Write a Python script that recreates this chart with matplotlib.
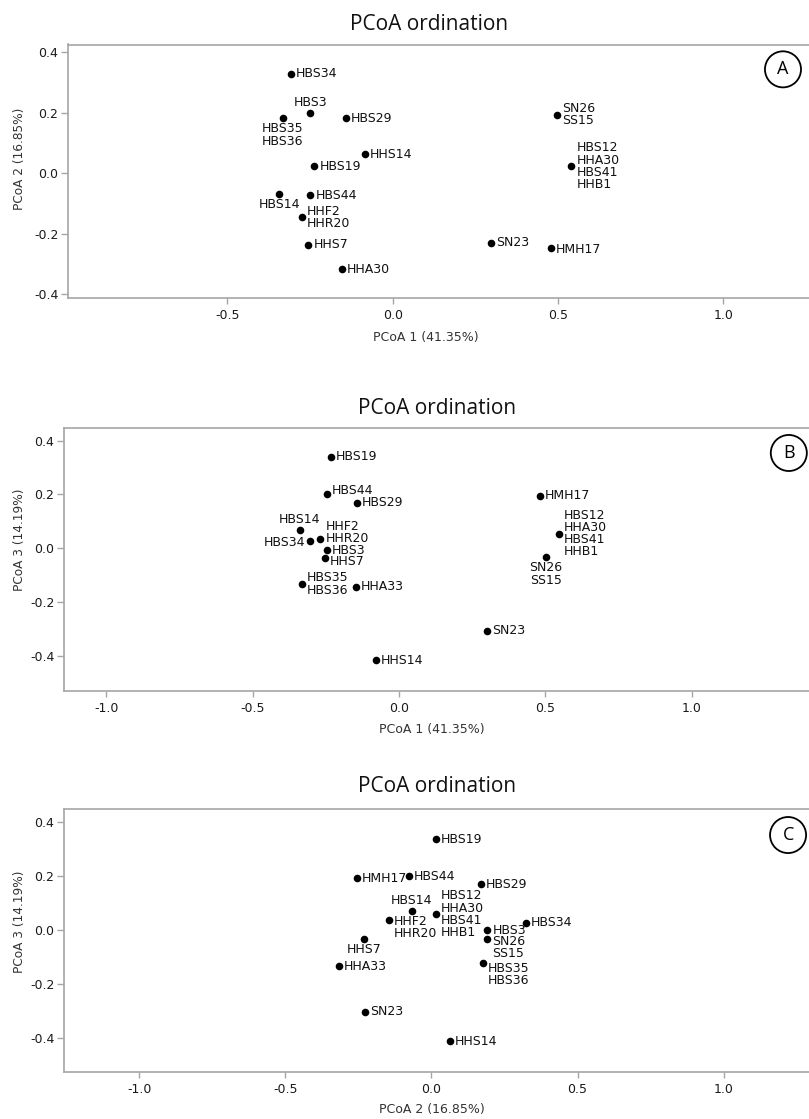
import matplotlib
matplotlib.use("Agg")
import matplotlib.pyplot as plt

# ---------------- data ----------------
# Panel A: PCoA 1 vs PCoA 2
labels_a = ["HBS34", "HBS3", "HBS35\nHBS36", "HBS29", "HHS14", "HBS19", "HBS14",
            "HBS44", "HHF2\nHHR20", "HHS7", "HHA30", "SN26\nSS15",
            "HBS12\nHHA30\nHBS41\nHHB1", "SN23", "HMH17"]
pc1_a = [-0.307, -0.249, -0.332, -0.142, -0.084, -0.237, -0.343,
         -0.249, -0.274, -0.255, -0.154, 0.497, 0.540, 0.298, 0.478]
pc2_a = [0.328, 0.199, 0.181, 0.181, 0.062, 0.023, -0.069,
         -0.072, -0.146, -0.236, -0.317, 0.193, 0.023, -0.230, -0.248]

# Panel B: PCoA 1 vs PCoA 3
labels_b = ["HBS19", "HBS44", "HBS29", "HBS14", "HBS34", "HHF2\nHHR20", "HBS3",
            "HHS7", "HBS35\nHBS36", "HHA33", "HHS14", "SN23", "HMH17",
            "HBS12\nHHA30\nHBS41\nHHB1", "SN26\nSS15"]
pc1_b = [-0.233, -0.247, -0.143, -0.338, -0.305, -0.268, -0.247,
         -0.252, -0.331, -0.148, -0.078, 0.301, 0.481, 0.546, 0.502]
pc3_b = [0.340, 0.201, 0.170, 0.068, 0.026, 0.033, -0.006,
         -0.035, -0.132, -0.143, -0.416, -0.306, 0.195, 0.055, -0.033]

# Panel C: PCoA 2 vs PCoA 3
labels_c = ["HBS19", "HMH17", "HBS44", "HBS29", "HBS14", "HBS12\nHHA30\nHBS41\nHHB1",
            "HHF2\nHHR20", "HBS34", "HBS3", "SN26\nSS15", "HHS7", "HHA33",
            "HBS35\nHBS36", "SN23", "HHS14"]
pc2_c = [0.016, -0.254, -0.076, 0.169, -0.067, 0.016,
         -0.145, 0.323, 0.191, 0.191, -0.231, -0.316, 0.177, -0.226, 0.064]
pc3_c = [0.338, 0.193, 0.199, 0.171, 0.071, 0.058,
         0.036, 0.027, 0.000, -0.035, -0.034, -0.135, -0.124, -0.304, -0.414]

xticks = [-1.0, -0.5, 0.0, 0.5, 1.0]
yticks = [-0.4, -0.2, 0.0, 0.2, 0.4]
title = "PCoA ordination"
xlabels = ["PCoA 1 (41.35%)", "PCoA 1 (41.35%)", "PCoA 2 (16.85%)"]
ylabels = ["PCoA 2 (16.85%)", "PCoA 3 (14.19%)", "PCoA 3 (14.19%)"]
panel_tags = ["A", "B", "C"]

# ---------------- label placement (style) ----------------
place_a = [("r", 0), ("a", 0), ("b", 0), ("r", 0), ("r", 0), ("r", 0), ("b", 0),
           ("r", 0), ("r", 0), ("r", 0), ("r", 0), ("r", 0), ("r", 0), ("r", 0), ("r", -1)]
place_b = [("r", 0), ("r", 4), ("r", 0), ("a", 0), ("l", -1), ("r", 7), ("r", -1),
           ("r", -4), ("r", 0), ("r", 0), ("r", 0), ("r", 0), ("r", 0), ("r", 0), ("b", 0)]
place_c = [("r", 0), ("r", 0), ("r", 0), ("r", 0), ("a", 0), ("r", 0),
           ("r", -7), ("r", 0), ("r", 0), ("r", -8), ("b", 0), ("r", 0),
           ("r", -11), ("r", 0), ("r", 0)]

W, H = 809, 1119
fig = plt.figure(figsize=(W / 100, H / 100), dpi=100)

LFONT = "DejaVu Sans"
TFONT = "Open Sans"
SPINE = "#a6a6a6"

def px_axes(left, top, right, bottom):
    return fig.add_axes([left / W, 1 - bottom / H, (right - left) / W, (bottom - top) / H])

panels = [
    dict(box=(68, 44.5, 812, 298), xlim=(-0.982, 1.268), ylim=(-0.412, 0.425),
         x=pc1_a, y=pc2_a, lab=labels_a, place=place_a,
         title_xy=(429, 25), xl_xy=(426, 337), yl_xy=(20, 159), tag_xy=(0.961, 0.902)),
    dict(box=(64, 428, 812, 691), xlim=(-1.144, 1.411), ylim=(-0.530, 0.447),
         x=pc1_b, y=pc3_b, lab=labels_b, place=place_b,
         title_xy=(437, 408), xl_xy=(432, 730), yl_xy=(20, 540), tag_xy=(0.969, 0.905)),
    dict(box=(64, 809, 812, 1072), xlim=(-1.257, 1.302), ylim=(-0.528, 0.450),
         x=pc2_c, y=pc3_c, lab=labels_c, place=place_c,
         title_xy=(437, 787), xl_xy=(432, 1110), yl_xy=(20, 922), tag_xy=(0.968, 0.901)),
]

for i, p in enumerate(panels):
    ax = px_axes(*p["box"])
    ax.set_xlim(*p["xlim"])
    ax.set_ylim(*p["ylim"])
    ax.set_xticks([t for t in xticks if p["xlim"][0] <= t <= p["xlim"][1]])
    ax.set_yticks(yticks)
    ax.set_xticklabels([f"{t:.1f}" for t in ax.get_xticks()])
    ax.set_yticklabels([f"{t:.1f}" for t in yticks])
    for s in ax.spines.values():
        s.set_color(SPINE)
        s.set_linewidth(1.2)
    ax.tick_params(axis="both", colors=SPINE, labelcolor="#1a1a1a", labelsize=9,
                   width=1, direction="out")
    ax.tick_params(axis="y", length=5, pad=2)
    ax.tick_params(axis="x", length=4, pad=4)
    for tl in ax.get_xticklabels() + ax.get_yticklabels():
        tl.set_fontfamily(LFONT)

    ax.scatter(p["x"], p["y"], s=30, color="black", zorder=3, linewidths=0)

    for name, xv, yv, (mode, dy) in zip(p["lab"], p["x"], p["y"], p["place"]):
        if mode == "r":
            off, ha, va = (5, dy), "left", "center"
        elif mode == "l":
            off, ha, va = (-4, dy), "right", "center"
        elif mode == "a":
            off, ha, va = (0, 4 + dy), "center", "bottom"
        else:
            off, ha, va = (0, -4 + dy), "center", "top"
        ax.annotate(name, (xv, yv), xytext=off, textcoords="offset pixels",
                    ha=ha, va=va, fontsize=9, family=LFONT, color="#111111",
                    linespacing=0.93, zorder=4)

    ax.text(p["tag_xy"][0], p["tag_xy"][1], panel_tags[i], transform=ax.transAxes,
            ha="center", va="center", fontsize=13, family=TFONT, color="black",
            bbox=dict(boxstyle="circle,pad=0.5", fc="white", ec="black", lw=1.3))

    fig.text(p["title_xy"][0] / W, 1 - p["title_xy"][1] / H, title,
             ha="center", va="center", fontsize=15, family=TFONT, color="#111111")
    fig.text(p["xl_xy"][0] / W, 1 - p["xl_xy"][1] / H, xlabels[i],
             ha="center", va="center", fontsize=9, family=LFONT, color="#333333")
    fig.text(p["yl_xy"][0] / W, 1 - p["yl_xy"][1] / H, ylabels[i], rotation=90,
             ha="center", va="center", fontsize=8.7, family=LFONT, color="#333333")

fig.savefig("out.png", dpi=100, facecolor="white")
